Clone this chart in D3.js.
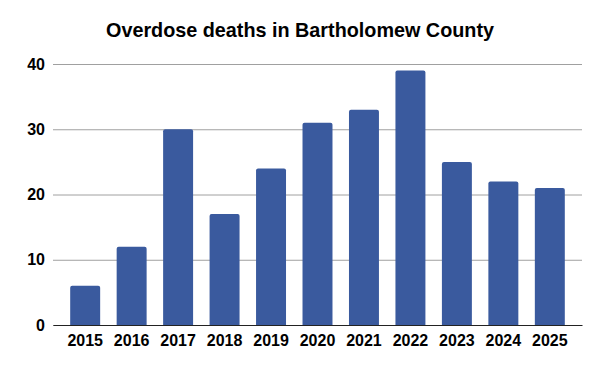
<!DOCTYPE html>
<html lang="en">
<head>
  <meta charset="UTF-8">
  <title>Overdose deaths in Bartholomew County</title>
  <style>
    html, body { margin: 0; background: #fff; }
    svg { display: block; font-family: 'Liberation Sans', Arial, sans-serif; }
  </style>
  <script src="https://cdn.jsdelivr.net/npm/d3@7/dist/d3.min.js"></script>
</head>
<body>
  <script>
    // data
    const years = ['2015', '2016', '2017', '2018', '2019', '2020', '2021', '2022', '2023', '2024', '2025']
    const deaths = [6, 12, 30, 17, 24, 31, 33, 39, 25, 22, 21]
    const yTicks = [0, 10, 20, 30, 40]

    const width = 600
    const height = 371
    const margin = { left: 53, right: 18, top: 64, bottom: 46 }

    const svg = d3.select('body').append('svg')
      .attr('width', width)
      .attr('height', height)

    // title
    svg.append('text')
      .attr('x', 300)
      .attr('y', 37)
      .attr('text-anchor', 'middle')
      .attr('font-size', 19.8)
      .attr('font-weight', 'bold')
      .attr('fill', '#000')
      .text('Overdose deaths in Bartholomew County')

    const xScale = d3.scaleBand()
      .domain(years)
      .range([margin.left, width - margin.right])
      .paddingInner(0.355)
      .paddingOuter(0.37)

    const yScale = d3.scaleLinear()
      .domain([0, 40])
      .range([height - margin.bottom, margin.top])

    // gridlines + y labels
    const gy = svg.append('g')
      .attr('transform', `translate(${margin.left}, 0)`)
      .call(d3.axisLeft(yScale)
        .tickValues(yTicks)
        .tickSize(-(width - margin.left - margin.right))
        .tickPadding(8))
    gy.select('.domain').remove()
    gy.selectAll('.tick line').attr('stroke', '#a0a0a0').attr('stroke-width', 1)
    gy.selectAll('.tick text')
      .attr('font-size', 16)
      .attr('font-weight', 'bold')
      .attr('fill', '#000')
      .attr('font-family', "'Liberation Sans', Arial, sans-serif")

    // bars with slightly rounded tops
    const r = 2
    svg.selectAll('.bar')
      .data(deaths)
      .enter()
      .append('path')
      .attr('class', 'bar')
      .attr('fill', '#3a5a9e')
      .attr('d', (d, i) => {
        const x0 = xScale(years[i])
        const w = xScale.bandwidth()
        const y0 = yScale(d)
        const yb = yScale(0)
        return `M${x0},${yb}V${y0 + r}Q${x0},${y0} ${x0 + r},${y0}H${x0 + w - r}Q${x0 + w},${y0} ${x0 + w},${y0 + r}V${yb}Z`
      })

    // x axis
    const gx = svg.append('g')
      .attr('transform', `translate(0, ${yScale(0)})`)
      .call(d3.axisBottom(xScale).tickSize(0).tickPadding(10))
    gx.select('.domain').attr('stroke', '#222').attr('stroke-width', 1.2)
    gx.selectAll('.tick text')
      .attr('font-size', 16)
      .attr('font-weight', 'bold')
      .attr('fill', '#000')
      .attr('font-family', "'Liberation Sans', Arial, sans-serif")
  </script>
</body>
</html>
